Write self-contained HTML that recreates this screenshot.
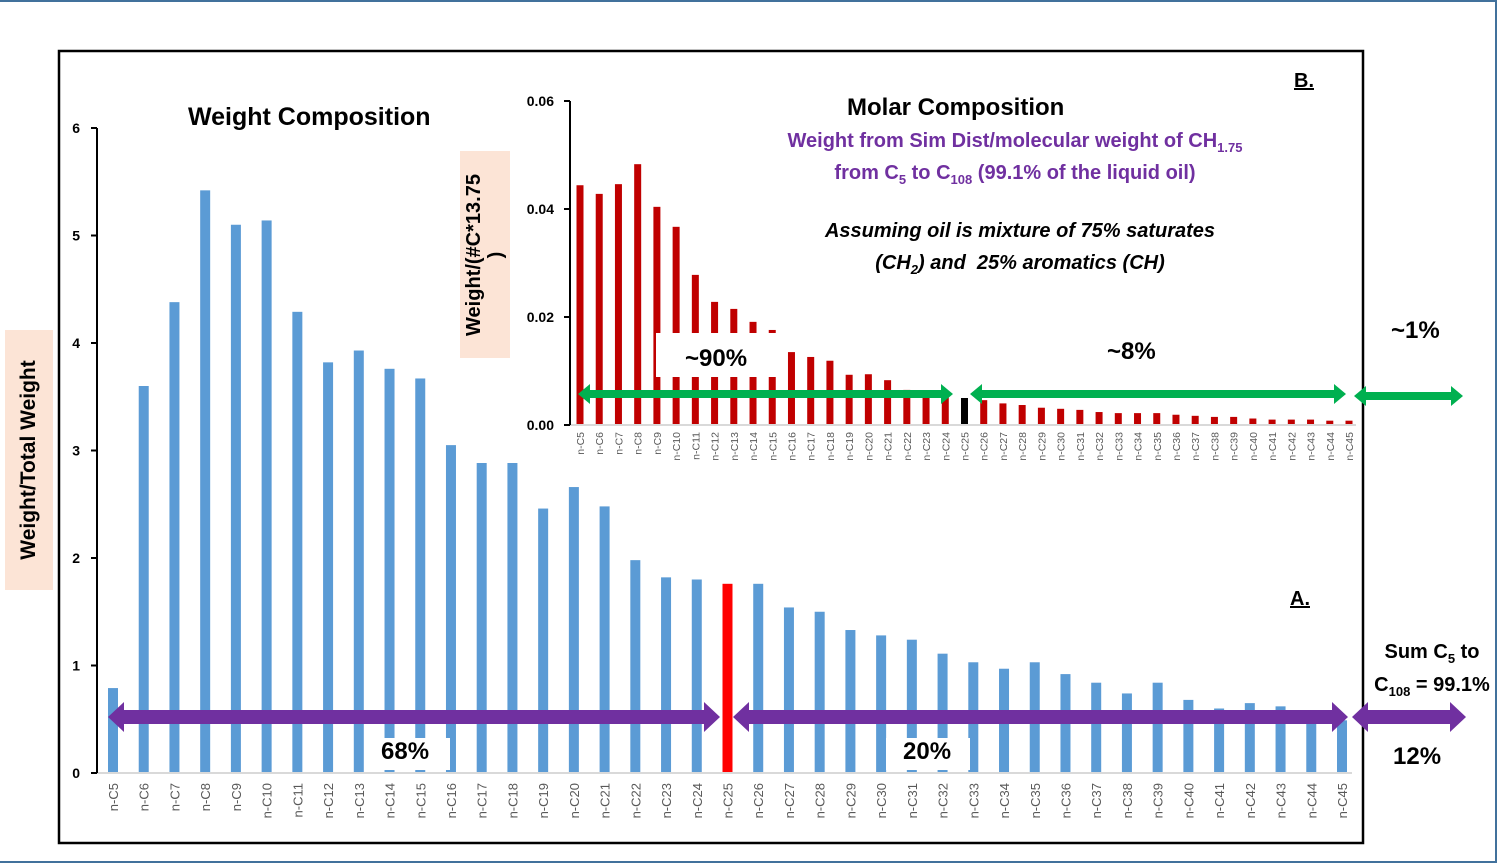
<!DOCTYPE html>
<html><head><meta charset="utf-8"><style>
html,body{margin:0;padding:0;background:#fff;}
svg{display:block;font-family:"Liberation Sans",sans-serif;}
.s{font-size:13px;position:relative;top:5px;vertical-align:baseline;line-height:0}
</style></head><body>
<svg id="chart" width="1512" height="865" viewBox="0 0 1512 865">
<rect x="0" y="0" width="1512" height="865" fill="#fff"/>
<rect x="-2" y="1" width="1498" height="861" fill="none" stroke="#41719c" stroke-width="2"/>
<rect x="59" y="51" width="1304" height="792" fill="none" stroke="#000" stroke-width="2.5"/>
<g id="main"></g>
<g id="inset"></g>
<g id="ann"></g>
</svg>
<script>
const categories=["n-C5","n-C6","n-C7","n-C8","n-C9","n-C10","n-C11","n-C12","n-C13","n-C14","n-C15","n-C16","n-C17","n-C18","n-C19","n-C20","n-C21","n-C22","n-C23","n-C24","n-C25","n-C26","n-C27","n-C28","n-C29","n-C30","n-C31","n-C32","n-C33","n-C34","n-C35","n-C36","n-C37","n-C38","n-C39","n-C40","n-C41","n-C42","n-C43","n-C44","n-C45"];
const weightValues=[0.79,3.6,4.38,5.42,5.1,5.14,4.29,3.82,3.93,3.76,3.67,3.05,2.99,3.0,2.46,2.66,2.48,1.98,1.82,1.8,1.76,1.76,1.54,1.5,1.33,1.28,1.24,1.11,1.03,0.97,1.03,0.92,0.84,0.74,0.84,0.68,0.6,0.65,0.62,0.52,0.49];
const molarValues=[0.0444,0.0428,0.0446,0.0483,0.0404,0.0367,0.0278,0.0228,0.0215,0.0191,0.0176,0.0135,0.0126,0.0119,0.0093,0.0094,0.0083,0.0065,0.006,0.006,0.005,0.0046,0.004,0.0037,0.0032,0.003,0.0028,0.0024,0.0022,0.0022,0.0022,0.0019,0.0017,0.0015,0.0015,0.0012,0.001,0.001,0.001,0.0008,0.0008];
const mainTicks=[0,1,2,3,4,5,6];
const insetTicks=["0.00","0.02","0.04","0.06"];
const highlightIndex=20;

const NS="http://www.w3.org/2000/svg";
function el(parent,tag,attrs,text){const e=document.createElementNS(NS,tag);for(const k in attrs)e.setAttribute(k,attrs[k]);if(text!==undefined)e.textContent=text;parent.appendChild(e);return e;}

const mX=i=>113+i*(1342-113)/(categories.length-1);
const mY=v=>773-v*(773-128)/6;
const main=document.getElementById('main');
categories.forEach((c,i)=>{
  const b=el(main,'rect',{x:mX(i)-5,y:mY(weightValues[i]),width:10,height:mY(0)-mY(weightValues[i]),fill:i===highlightIndex?'#ff0000':'#5b9bd5'});
  
  
  const t=el(main,'text',{x:0,y:0,transform:`translate(${mX(i)+5},${783}) rotate(-90)`,'text-anchor':'end','font-size':13,fill:'#595959'},c);
  
  
});
el(main,'line',{x1:97,y1:773,x2:1352,y2:773,stroke:'#d9d9d9','stroke-width':2});
el(main,'line',{x1:97,y1:128,x2:97,y2:773,stroke:'#000','stroke-width':2});
mainTicks.forEach(v=>{
  el(main,'line',{x1:91,y1:mY(v),x2:97,y2:mY(v),stroke:'#000','stroke-width':2});
  const t=el(main,'text',{x:80,y:mY(v)+5,'text-anchor':'end','font-size':14,'font-weight':'bold'},String(v));
  
  
});

const inset=document.getElementById('inset');
el(inset,'rect',{x:460,y:58,width:898,height:405,fill:'#fff'});
const iX=i=>580+i*(1349-580)/(categories.length-1);
const iY=v=>425-v*(425-101)/0.06;
categories.forEach((c,i)=>{
  const b=el(inset,'rect',{x:iX(i)-3.5,y:iY(molarValues[i]),width:7,height:iY(0)-iY(molarValues[i]),fill:i===highlightIndex?'#000':'#c00000'});
  
  
  const t=el(inset,'text',{x:0,y:0,transform:`translate(${iX(i)+4},${432}) rotate(-90)`,'text-anchor':'end','font-size':10.5,fill:'#595959'},c);
  
  
});
el(inset,'line',{x1:570,y1:425,x2:1356,y2:425,stroke:'#d9d9d9','stroke-width':2});
el(inset,'line',{x1:570,y1:101,x2:570,y2:425,stroke:'#000','stroke-width':2});
insetTicks.forEach(s=>{
  const v=parseFloat(s);
  el(inset,'line',{x1:564,y1:iY(v),x2:570,y2:iY(v),stroke:'#000','stroke-width':2});
  const t=el(inset,'text',{x:554,y:iY(v)+5,'text-anchor':'end','font-size':14,'font-weight':'bold'},s);
  
  
});

const ann=document.getElementById('ann');
function arrow(x1,x2,y,shaft,head,hl,color){
  const h=shaft/2,H=head/2;
  return el(ann,'polygon',{points:`${x1},${y} ${x1+hl},${y-H} ${x1+hl},${y-h} ${x2-hl},${y-h} ${x2-hl},${y-H} ${x2},${y} ${x2-hl},${y+H} ${x2-hl},${y+h} ${x1+hl},${y+h} ${x1+hl},${y+H}`,fill:color});
}
(function(){
const a=[];
el(ann,'rect',{x:656,y:333,width:122,height:44,fill:'#fff'});
el(ann,'rect',{x:375,y:738,width:75,height:32,fill:'#fff'});
el(ann,'rect',{x:886,y:738,width:84,height:32,fill:'#fff'});
a.push(arrow(108,720,717,14,30,16,'#7030a0'));
a.push(arrow(733,1348,717,14,30,16,'#7030a0'));
a.push(arrow(1352,1466,717,14,30,16,'#7030a0'));
a.push(arrow(578,953,394,8,20,12,'#00b050'));
a.push(arrow(970,1346,394,8,20,12,'#00b050'));
a.push(arrow(1354,1463,396,8,20,12,'#00b050'));
a.forEach(p=>{});
})();
</script>
<div style="position:absolute;left:0;top:0;width:1512px;height:865px;font-family:'Liberation Sans',sans-serif;pointer-events:none">
<div style="position:absolute;left:5px;top:330px;width:48px;height:260px;background:#fce4d6"></div>
<div style="position:absolute;left:29px;top:460px;transform:translate(-50%,-50%) rotate(-90deg);white-space:nowrap;font-weight:bold;font-size:21px">Weight/Total Weight</div>
<div style="position:absolute;left:460px;top:151px;width:50px;height:207px;background:#fce4d6"></div>
<div style="position:absolute;left:485px;top:255px;transform:translate(-50%,-50%) rotate(-90deg);white-space:nowrap;font-weight:bold;font-size:20px;text-align:center;line-height:22px">Weight/(#C*13.75<br>)</div>
<div style="position:absolute;left:188px;top:103px;font-weight:bold;font-size:25px">Weight Composition</div>
<div style="position:absolute;left:847px;top:94px;font-weight:bold;font-size:24px">Molar Composition</div>
<div style="position:absolute;left:740px;top:125px;width:550px;text-align:center;color:#7030a0;font-weight:bold;font-size:20px;line-height:32px">Weight from Sim Dist/molecular weight of CH<span class="s">1.75</span><br>from C<span class="s">5</span> to C<span class="s">108</span> (99.1% of the liquid oil)</div>
<div style="position:absolute;left:770px;top:215px;width:500px;text-align:center;font-style:italic;font-weight:bold;font-size:20px;line-height:32px">Assuming oil is mixture of 75% saturates<br>(CH<span class="s">2</span>) and &nbsp;25% aromatics (CH)</div>
<div style="position:absolute;left:1294px;top:70px;font-weight:bold;font-size:20px;text-decoration:underline">B.</div>
<div style="position:absolute;left:1290px;top:588px;font-weight:bold;font-size:20px;text-decoration:underline">A.</div>
<div style="position:absolute;left:685px;top:345px;font-weight:bold;font-size:24px">~90%</div>
<div style="position:absolute;left:1107px;top:338px;font-weight:bold;font-size:24px">~8%</div>
<div style="position:absolute;left:1391px;top:317px;font-weight:bold;font-size:24px">~1%</div>
<div style="position:absolute;left:381px;top:738px;font-weight:bold;font-size:24px">68%</div>
<div style="position:absolute;left:903px;top:738px;font-weight:bold;font-size:24px">20%</div>
<div style="position:absolute;left:1393px;top:743px;font-weight:bold;font-size:24px">12%</div>
<div style="position:absolute;left:1364px;top:636px;width:136px;text-align:center;font-weight:bold;font-size:20px;line-height:33px">Sum C<span class="s">5</span> to<br>C<span class="s">108</span> = 99.1%</div>
</div>
</body></html>
